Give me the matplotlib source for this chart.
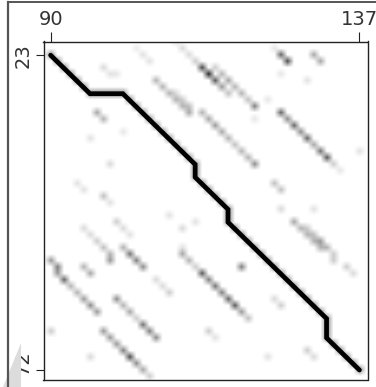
import numpy as np
import matplotlib
matplotlib.use("Agg")
import matplotlib.pyplot as plt
from matplotlib.lines import Line2D
from matplotlib.patches import Polygon
from matplotlib.transforms import ScaledTranslation

# axis ticks shown on the chart
x_ticks = [90, 137]
y_ticks = [23, 72]

# alignment path (column, row) corners
path_cols = [90, 96, 101, 112, 112, 117, 117, 132, 132, 137]
path_rows = [23, 29, 29, 40, 42, 47, 49, 64, 67, 72]
path_cell_value = 0.45

# dots of the match matrix: (column, row, darkness 0..1)
spots_upper = [
    (103, 22, 0.08), (104, 23, 0.12), (105, 24, 0.12),
    (98, 25, 0.15), (99, 26, 0.12), (100, 26, 0.1),
    (109, 21, 0.1), (110, 22, 0.15), (111, 23, 0.15), (112, 24, 0.2),
    (113, 25, 0.7), (114, 26, 0.85), (115, 27, 0.65), (116, 28, 0.4),
    (117, 29, 0.25),
    (115, 25, 0.2), (116, 26, 0.3), (117, 27, 0.35), (118, 28, 0.3),
    (119, 29, 0.3), (120, 30, 0.25), (121, 31, 0.5),
    (123, 30, 0.1), (121, 33, 0.1),
    (124, 22, 0.1), (125, 23, 0.6), (126, 24, 0.7), (125, 26, 0.1),
    (130, 23, 0.35), (131, 24, 0.35), (129, 27, 0.12),
    (106, 27, 0.3), (107, 28, 0.3), (108, 29, 0.3), (109, 30, 0.3),
    (110, 31, 0.3), (111, 32, 0.35),
    (109, 29, 0.15), (110, 30, 0.2), (111, 31, 0.25),
    (97, 32, 0.35), (98, 33, 0.3),
    (101, 35, 0.1),
    (113, 32, 0.3), (114, 33, 0.35), (115, 34, 0.4), (116, 35, 0.35),
    (125, 32, 0.6), (126, 33, 0.45), (127, 34, 0.6), (128, 35, 0.45),
]

spots_middle = [
    (117, 36, 0.3), (118, 37, 0.25), (119, 38, 0.3), (120, 39, 0.3),
    (121, 40, 0.45),
    (129, 36, 0.6), (130, 37, 0.35), (131, 38, 0.55), (132, 39, 0.65),
    (133, 40, 0.2), (134, 41, 0.1),
    (137, 38, 0.12),
    (96, 36, 0.12), (99, 40, 0.15), (94, 43, 0.12), (95, 44, 0.12),
    (98, 45, 0.25), (99, 46, 0.12),
    (124, 43, 0.25), (125, 44, 0.25), (125, 47, 0.15), (130, 47, 0.12),
    (127, 49, 0.35), (128, 50, 0.3), (129, 51, 0.3), (130, 52, 0.3),
    (131, 53, 0.3),
    (129, 50, 0.2), (130, 51, 0.25), (131, 52, 0.4), (132, 53, 0.3),
    (133, 54, 0.2),
    (108, 48, 0.12), (110, 50, 0.15), (112, 49, 0.12),
    (100, 49, 0.2), (101, 50, 0.15), (102, 51, 0.12),
    (95, 50, 0.15), (96, 51, 0.15), (97, 52, 0.2),
]

spots_lower = [
    (98, 53, 0.25), (99, 54, 0.3), (99, 55, 0.4),
    (101, 53, 0.3), (102, 54, 0.55), (103, 55, 0.5), (104, 56, 0.45),
    (90, 55, 0.4), (91, 56, 0.5), (91, 57, 0.4), (92, 58, 0.6),
    (93, 59, 0.3), (94, 60, 0.3), (95, 61, 0.4), (96, 62, 0.45),
    (97, 63, 0.4),
    (95, 56, 0.3), (96, 57, 0.35),
    (100, 61, 0.45), (101, 62, 0.3), (102, 63, 0.35), (103, 64, 0.2),
    (104, 65, 0.55), (105, 66, 0.5), (106, 67, 0.45),
    (98, 66, 0.4), (99, 67, 0.4), (100, 68, 0.4), (101, 69, 0.5),
    (102, 70, 0.7), (103, 71, 0.45), (104, 72, 0.35), (105, 73, 0.2),
    (90, 66, 0.2), (96, 70, 0.15), (106, 58, 0.15), (107, 59, 0.15),
    (108, 60, 0.2),
    (110, 53, 0.12), (110, 54, 0.35), (111, 55, 0.3), (112, 56, 0.2),
    (113, 57, 0.65), (114, 58, 0.5), (115, 59, 0.55), (116, 60, 0.5),
    (117, 61, 0.6), (118, 62, 0.65), (119, 63, 0.4), (120, 64, 0.25),
    (119, 56, 0.5),
    (114, 66, 0.2), (115, 67, 0.12),
    (124, 61, 0.15), (125, 62, 0.2), (123, 70, 0.12), (129, 69, 0.2),
    (130, 70, 0.15),
    (133, 55, 0.2), (135, 56, 0.2), (136, 57, 0.15),
]

grid_cols = (88, 139)
grid_rows = (20, 74)


def build_matrix():
    ncol = grid_cols[1] - grid_cols[0] + 1
    nrow = grid_rows[1] - grid_rows[0] + 1
    mat = np.zeros((nrow, ncol))

    def put(c, r, v):
        i, j = r - grid_rows[0], c - grid_cols[0]
        mat[i, j] = max(mat[i, j], v)

    # cells under the path are dark too
    for k in range(len(path_cols) - 1):
        c, r = path_cols[k], path_rows[k]
        c1, r1 = path_cols[k + 1], path_rows[k + 1]
        put(c, r, path_cell_value)
        while (c, r) != (c1, r1):
            c += int(np.sign(c1 - c))
            r += int(np.sign(r1 - r))
            put(c, r, path_cell_value)

    for c, r, v in spots_upper + spots_middle + spots_lower:
        put(c, r, v)
    return mat


fig = plt.figure(figsize=(3.76, 3.87), dpi=100)

# grey wedge and frame lines of the surrounding panel
W, H = 376.0, 387.0
fig.patches.append(Polygon([(3 / W, 0), (20.5 / W, 0), (20.5 / W, 1 - 343 / H)],
                           closed=True, transform=fig.transFigure,
                           facecolor="#dcdcdc", edgecolor="none", zorder=0))
fig.lines.append(Line2D([8 / W, 8 / W], [0, 1 - 2 / H], transform=fig.transFigure,
                        color="#555555", lw=1.6))
fig.lines.append(Line2D([8 / W, 1], [1 - 2 / H, 1 - 2 / H], transform=fig.transFigure,
                        color="#555555", lw=1.4))

ax = fig.add_axes([43.5 / W, 1 - 380.3 / H, 324 / W, (380.3 - 41.5) / H])

mat = build_matrix()
ax.imshow(mat, cmap="gray_r", vmin=0, vmax=1, interpolation="bilinear",
          extent=(grid_cols[0] - 0.5, grid_cols[1] + 0.5,
                  grid_rows[1] + 0.5, grid_rows[0] - 0.5),
          aspect="auto")

ax.plot(path_cols, path_rows, color="black", lw=3.4,
        solid_capstyle="round", solid_joinstyle="miter")

ax.set_xlim(88.92, 138.23)
ax.set_ylim(73.60, 20.87)

ax.xaxis.tick_top()
ax.set_xticks(x_ticks)
ax.set_yticks(y_ticks)
ax.set_xticklabels([str(t) for t in x_ticks])
ax.set_yticklabels([str(t) for t in y_ticks], rotation=90, va="center")
ax.tick_params(axis="x", length=7, width=0.8, pad=2, labelsize=14,
               color="#222222", labelcolor="#333333")
ax.tick_params(axis="y", length=6, width=0.8, pad=2, labelsize=14,
               color="#222222", labelcolor="#333333")
# bottom label sits a little above its tick
lab = ax.get_yticklabels()[-1]
lab.set_transform(lab.get_transform() + ScaledTranslation(0, 5 / 72, fig.dpi_scale_trans))
for s in ax.spines.values():
    s.set_linewidth(1.0)
    s.set_color("#222222")

fig.savefig("out.png", dpi=100)
